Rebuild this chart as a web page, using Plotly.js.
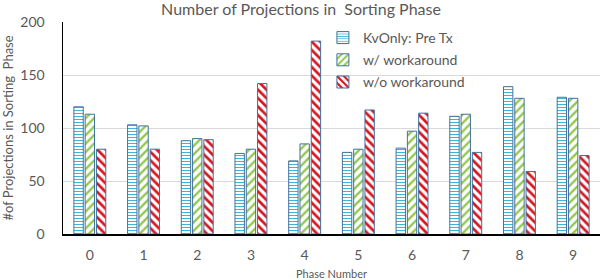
<!DOCTYPE html>
<html>
<head>
<meta charset="utf-8">
<script src="https://cdn.plot.ly/plotly-3.0.1.min.js"></script>
<style>html,body{margin:0;padding:0;background:#fff;}#chart{width:602px;height:280px;}</style>
</head>
<body>
<div id="chart"></div>
<script>
const phases = ['0','1','2','3','4','5','6','7','8','9'];
const seriesNames = ['KvOnly: Pre Tx', 'w/ workaround', 'w/o workaround'];
const kvOnlyPreTx = [120, 103, 88, 76, 69, 77, 81, 111, 139, 129];
const withWorkaround = [113, 102, 90, 80, 85, 80, 97, 113, 128, 128];
const withoutWorkaround = [80, 80, 89, 142, 182, 117, 114, 77, 59, 74];
const yTicks = [0, 50, 100, 150, 200];

const FONT = 'Lato, "Open Sans", "Liberation Sans", sans-serif';
const GREY = '#595959';
const outline = {color: '#41719c', width: 1};

const traces = [
  {name: seriesNames[0], y: kvOnlyPreTx, fg: '#40b4d8', shape: '-', size: 3, sol: 0.35},
  {name: seriesNames[1], y: withWorkaround, fg: '#92c84f', shape: '/', size: 6, sol: 0.4},
  {name: seriesNames[2], y: withoutWorkaround, fg: '#d9141e', shape: '\\', size: 6, sol: 0.45}
].map((s, i) => ({
  type: 'bar',
  x: phases,
  y: s.y,
  name: s.name,
  legendgroup: 'g' + i,
  marker: {
    color: '#ffffff',
    line: outline,
    pattern: {shape: s.shape, fgcolor: s.fg, bgcolor: '#ffffff', size: s.size, solidity: s.sol, fillmode: 'replace'}
  },
  hoverinfo: 'x+y+name'
}));

const layout = {
  width: 602, height: 280,
  margin: {l: 63, r: 2, t: 22, b: 46},
  paper_bgcolor: '#ffffff', plot_bgcolor: '#ffffff',
  font: {family: FONT, color: GREY, size: 13},
  title: {text: 'Number of Projections in  Sorting Phase', font: {family: FONT, size: 16, color: GREY}, x: 0.5, xanchor: 'center', y: 0.985, yanchor: 'top'},
  barmode: 'group',
  bargap: 0.37,
  bargroupgap: 0.17,
  xaxis: {
    type: 'category',
    showline: true, linecolor: '#000000', linewidth: 1.5,
    ticks: '', tickfont: {size: 14, color: GREY},
    ticklabelstandoff: 8,
    title: {text: 'Phase Number', font: {size: 11, color: GREY}, standoff: 8},
    showgrid: false, zeroline: false
  },
  yaxis: {
    range: [0, 200],
    tickvals: yTicks, ticktext: yTicks.map(String),
    showline: true, linecolor: '#000000', linewidth: 1.5,
    gridcolor: '#d9d9d9', gridwidth: 1,
    zeroline: false, ticks: '',
    tickfont: {size: 14, color: GREY},
    ticklabelstandoff: 14,
    title: {text: '#of Projections in Sorting  Phase', font: {size: 13, color: GREY}, standoff: 4}
  },
  legend: {
    x: 0.484, y: 1.0, xanchor: 'left', yanchor: 'top',
    bgcolor: 'rgba(0,0,0,0)',
    font: {size: 14, color: GREY},
    tracegroupgap: 1,
    itemwidth: 30
  },
  showlegend: true
};

Plotly.newPlot('chart', traces, layout, {displayModeBar: false, staticPlot: true});
</script>
</body>
</html>
